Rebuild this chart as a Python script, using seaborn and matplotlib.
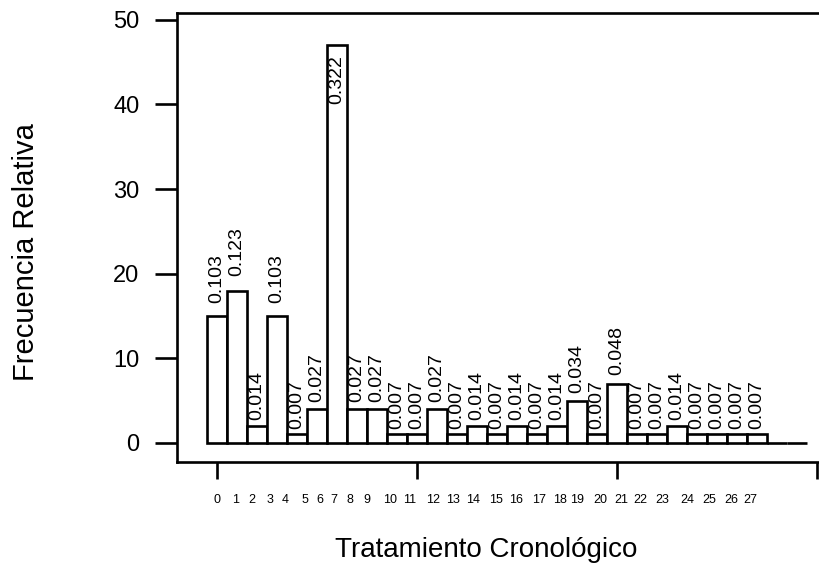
import matplotlib
matplotlib.use("Agg")
import matplotlib.pyplot as plt
import seaborn as sns
import pandas as pd

# Counts per chronological treatment (bars 28 and 29 are empty)
treatments = list(range(30))
counts = [15, 18, 2, 15, 1, 4, 47, 4, 4, 1, 1, 4, 1, 2, 1, 2, 1, 2, 5, 1, 7,
          1, 1, 2, 1, 1, 1, 1, 0, 0]

# Labels written under the axis and where they sit along it
tick_labels = [str(i) for i in range(28)]
tick_label_pos = [0, 0.95, 1.75, 2.65, 3.4, 4.4, 5.15, 5.85, 6.65, 7.5, 8.65,
                  9.65, 10.8, 11.8, 12.8, 13.95, 14.95, 16.1, 17.15, 18.0,
                  19.15, 20.2, 21.15, 22.25, 23.5, 24.6, 25.7, 26.65]

total = sum(counts)
rel_freq = [c / total for c in counts]

sns.set_theme(style="white")
plt.rcParams["font.family"] = ["Liberation Sans", "DejaVu Sans"]
plt.rcParams["text.color"] = "black"
plt.rcParams["axes.labelcolor"] = "black"

df = pd.DataFrame({"trat": treatments, "n": counts})

fig = plt.figure(figsize=(8.2, 5.65), dpi=100)
ax = fig.add_axes([177 / 820, 103 / 565, 673 / 820, 449 / 565])

sns.barplot(data=df, x="trat", y="n", order=treatments, color="white",
            saturation=1, edgecolor="black", linewidth=1.9, width=1.0, ax=ax)

ax.set_xlim(-2.0, 31.65)
ax.set_ylim(-2.25, 50.8)

# Relative frequency above each non-empty bar
for i, (c, f) in enumerate(zip(counts, rel_freq)):
    if c == 0:
        continue
    y = min(c + 0.6 + 0.06 * c, 40)
    ax.text(i, y, f"{f:.3f}", rotation=90, ha="center", va="bottom",
            fontsize=14, color="black")

for side in ("left", "bottom", "top"):
    ax.spines[side].set_visible(True)
    ax.spines[side].set_color("black")
    ax.spines[side].set_linewidth(1.9)
ax.spines["right"].set_visible(False)

ax.set_yticks([0, 10, 20, 30, 40, 50])
ax.set_yticklabels(["0", "10", "20", "30", "40", "50"])
ax.tick_params(axis="y", which="major", left=True, length=16, width=1.9,
               direction="out", labelsize=17, pad=11, colors="black")

ax.xaxis.remove_overlapping_locs = False
ax.set_xticks([0, 10, 20, 30])
ax.set_xticklabels([])
ax.tick_params(axis="x", which="major", bottom=True, length=12, width=1.9,
               direction="out", colors="black")
ax.set_xticks(tick_label_pos, minor=True)
ax.set_xticklabels(tick_labels, minor=True)
ax.tick_params(axis="x", which="minor", bottom=True, length=0,
               labelsize=9, pad=23, colors="black")

ax.set_xlabel("")
ax.set_ylabel("")

fig.text(26 / 820, 1 - 252 / 565, "Frecuencia Relativa", rotation=90,
         ha="center", va="center", fontsize=21, color="black")
fig.text(486 / 820, 1 - 557 / 565, "Tratamiento Cronológico",
         ha="center", va="baseline", fontsize=20, color="black")

fig.savefig("out.png", dpi=100, facecolor="white")
